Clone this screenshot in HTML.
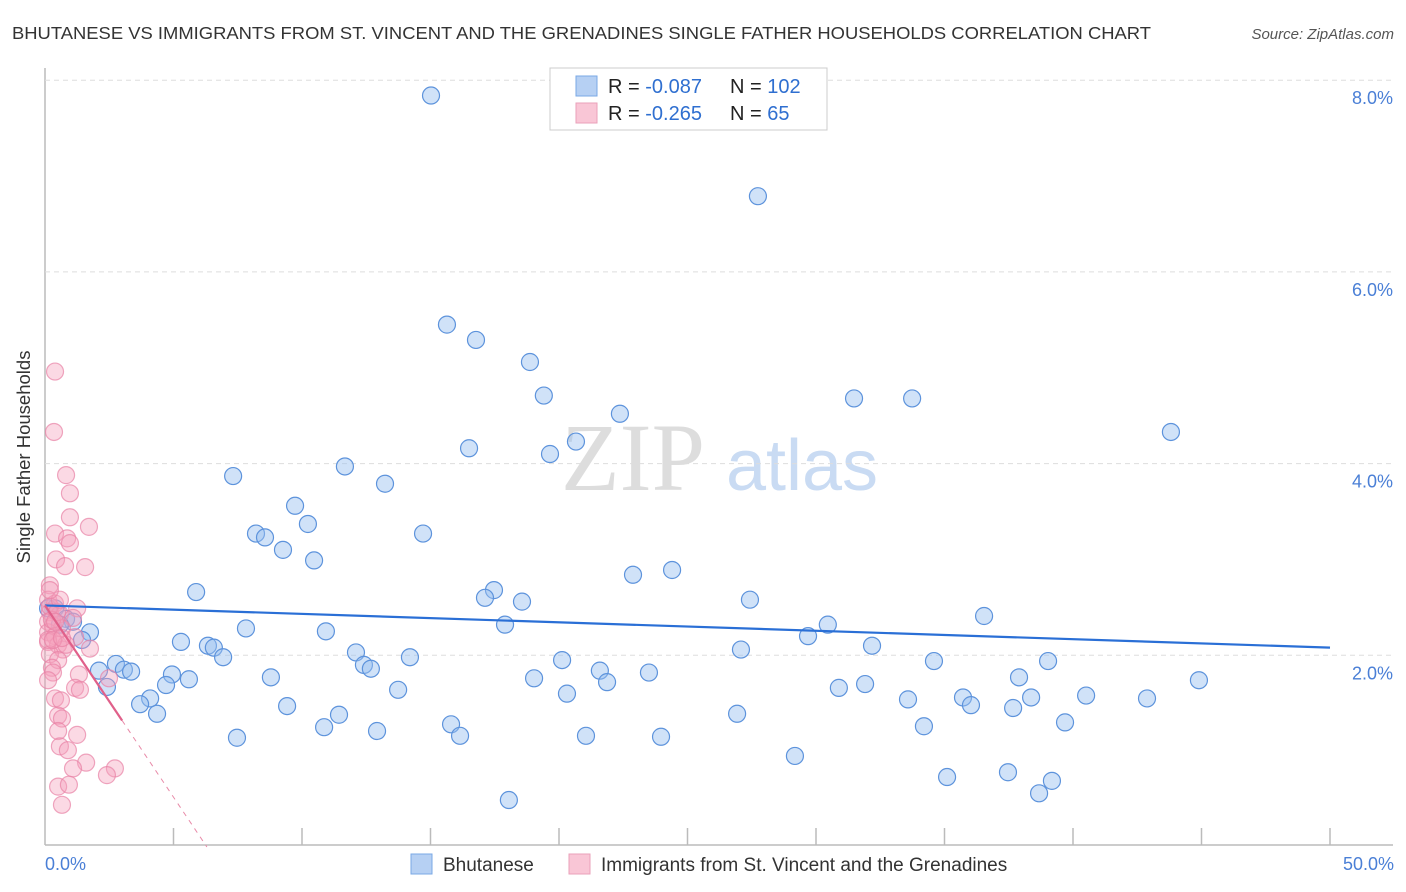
<!DOCTYPE html>
<html><head><meta charset="utf-8">
<style>
body{margin:0;background:#fff;font-family:"Liberation Sans",sans-serif;}
#wrap{position:relative;width:1406px;height:892px;overflow:hidden;}
</style></head>
<body>
<div id="wrap">
<svg id="svg" width="1406" height="892" xmlns="http://www.w3.org/2000/svg" font-family="Liberation Sans, sans-serif">
<text x="12" y="39" font-size="17.5" fill="#333" textLength="1139" lengthAdjust="spacingAndGlyphs">BHUTANESE VS IMMIGRANTS FROM ST. VINCENT AND THE GRENADINES SINGLE FATHER HOUSEHOLDS CORRELATION CHART</text>
<text x="1394" y="39" font-size="15" fill="#555" font-style="italic" text-anchor="end">Source: ZipAtlas.com</text>
<text x="30" y="457" font-size="18.5" fill="#333" text-anchor="middle" transform="rotate(-90 30 457)">Single Father Households</text>
<g>
<text x="633" y="490" font-size="96" fill="#ddd" font-family="Liberation Serif, serif" text-anchor="middle">ZIP</text>
<text x="802" y="490" font-size="72" fill="#c9dbf3" text-anchor="middle">atlas</text>
</g>
<g id="grid"></g>
<g id="marks"></g>
<g id="lines"></g>
<g>
<rect x="550" y="68" width="277" height="62" fill="#fff" stroke="#ccc"/>
<rect x="576" y="76" width="21" height="20" fill="#b6d0f3" stroke="#7aa8e6"/>
<rect x="576" y="103" width="21" height="20" fill="#f9c6d6" stroke="#eaa0ba"/>
<text x="608" y="93" font-size="20" fill="#222">R = <tspan fill="#2f6fd0">-0.087</tspan></text>
<text x="730" y="93" font-size="20" fill="#222">N = <tspan fill="#2f6fd0">102</tspan></text>
<text x="608" y="120" font-size="20" fill="#222">R = <tspan fill="#2f6fd0"> -0.265</tspan></text>
<text x="730" y="120" font-size="20" fill="#222">N = <tspan fill="#2f6fd0">  65</tspan></text>
</g>
<g>
<rect x="411" y="854" width="21" height="20" fill="#b6d0f3" stroke="#7aa8e6"/>
<text x="443" y="871" font-size="19" fill="#333">Bhutanese</text>
<rect x="569" y="854" width="21" height="20" fill="#f9c6d6" stroke="#eaa0ba"/>
<text x="601" y="871" font-size="19" fill="#333">Immigrants from St. Vincent and the Grenadines</text>
</g>
<text x="45" y="870" font-size="18" fill="#4a7fd6">0.0%</text>
<text x="1394" y="870" font-size="18" fill="#4a7fd6" text-anchor="end">50.0%</text>
</svg>
</div>
<script>
const yTicks=[2,4,6,8];
const yTickLabels=["2.0%","4.0%","6.0%","8.0%"];
const xTicks=[5,10,15,20,25,30,35,40,45,50];
const blueX=[15.02,27.74,15.64,16.77,18.87,19.41,22.37,31.48,33.74,43.81,20.66,16.50,19.65,7.32,11.67,13.23,9.73,10.23,8.21,8.56,9.26,14.71,10.47,22.88,24.40,5.88,17.47,17.12,18.56,27.43,36.54,17.90,30.46,29.69,7.82,10.93,5.29,6.34,6.57,6.93,27.08,32.18,12.10,14.20,20.12,34.59,39.03,12.41,12.68,21.59,23.50,37.90,44.90,4.94,5.60,8.79,19.03,21.87,2.76,3.07,3.35,2.10,4.71,2.41,13.74,30.89,31.91,20.31,35.72,38.37,40.51,42.88,4.09,3.70,9.42,33.58,36.03,37.67,4.36,11.44,26.93,39.69,15.80,10.86,34.20,12.92,16.15,7.47,21.05,23.97,29.18,35.10,37.47,39.18,38.68,18.05,0.39,0.82,1.75,1.44,1.09,0.58,0.12];
const blueY=[7.84,6.79,5.45,5.29,5.06,4.71,4.52,4.68,4.68,4.33,4.23,4.16,4.10,3.87,3.97,3.79,3.56,3.37,3.27,3.23,3.10,3.27,2.99,2.84,2.89,2.66,2.68,2.60,2.56,2.58,2.41,2.32,2.32,2.20,2.28,2.25,2.14,2.10,2.08,1.98,2.06,2.10,2.03,1.98,1.95,1.94,1.94,1.90,1.86,1.84,1.82,1.77,1.74,1.80,1.75,1.77,1.76,1.72,1.91,1.85,1.83,1.84,1.69,1.67,1.64,1.66,1.70,1.60,1.56,1.56,1.58,1.55,1.55,1.49,1.47,1.54,1.48,1.45,1.39,1.38,1.39,1.30,1.28,1.25,1.26,1.21,1.16,1.14,1.16,1.15,0.95,0.73,0.78,0.69,0.56,0.49,2.49,2.38,2.24,2.16,2.35,2.32,2.49];
const pinkX=[0.39,0.35,0.82,0.97,0.97,1.71,0.39,0.86,0.97,0.43,0.78,1.56,0.19,0.12,0.39,1.25,0.19,0.58,1.09,0.12,0.31,0.66,0.12,0.39,1.17,0.12,0.51,0.70,1.75,0.19,0.51,0.27,0.31,1.32,2.49,0.12,1.17,1.36,0.39,0.62,0.51,0.66,0.51,1.25,0.58,0.89,1.60,1.09,2.72,2.41,0.51,0.93,0.66,0.19,0.27,0.47,0.12,0.82,0.31,0.58,0.19,0.39,0.66];
const pinkY=[4.96,4.33,3.88,3.69,3.44,3.34,3.27,3.22,3.17,3.00,2.93,2.92,2.73,2.58,2.54,2.49,2.45,2.43,2.39,2.35,2.31,2.28,2.24,2.20,2.19,2.14,2.11,2.06,2.07,2.01,1.95,1.87,1.82,1.80,1.76,1.74,1.66,1.64,1.55,1.53,1.37,1.34,1.21,1.17,1.05,1.01,0.88,0.82,0.82,0.75,0.63,0.65,0.44,2.51,2.37,2.45,2.16,2.11,2.16,2.58,2.68,2.35,2.18];
const blueFit=[2.52,-0.0088];
const pinkFit=[2.52,-0.40];
const NS="http://www.w3.org/2000/svg";
const X0=45,X1=1330,Y0=847,PPY=95.85;
function sx(v){return X0+(v/50)*(X1-X0);}
function sy(v){return Y0-v*PPY;}
function mk(t,a,p){const e=document.createElementNS(NS,t);for(const k in a)e.setAttribute(k,a[k]);p.appendChild(e);return e;}
const grid=document.getElementById('grid'),marks=document.getElementById('marks'),lines=document.getElementById('lines');
mk('line',{x1:45,y1:68,x2:45,y2:845,stroke:'#bbb','stroke-width':1.5},grid);
mk('line',{x1:45,y1:845,x2:1393,y2:845,stroke:'#bbb','stroke-width':1.5},grid);
yTicks.forEach((v,i)=>{
 const l=mk('line',{x1:45,y1:sy(v),x2:1393,y2:sy(v),stroke:'#ddd','stroke-dasharray':'5,4'},grid);
 
 
 const t=mk('text',{x:1393,y:sy(v)+24,'font-size':18,fill:'#4a7fd6','text-anchor':'end'},grid);
 t.textContent=yTickLabels[i];
 
 
});
xTicks.forEach(v=>{
 const l=mk('line',{x1:sx(v),y1:845,x2:sx(v),y2:828,stroke:'#bbb','stroke-width':1.5},grid);
 
 
});
blueX.forEach((x,i)=>{
 const c=mk('circle',{cx:sx(x),cy:sy(blueY[i]),r:8.5,fill:'rgba(150,190,240,0.45)',stroke:'#5d93dc','stroke-width':1.2},marks);
 
 
});
pinkX.forEach((x,i)=>{
 const c=mk('circle',{cx:sx(x),cy:sy(pinkY[i]),r:8.5,fill:'rgba(244,160,188,0.4)',stroke:'rgba(232,130,165,0.7)','stroke-width':1.2},marks);
 
 
});
const bl=mk('line',{x1:sx(0),y1:sy(blueFit[0]),x2:sx(50),y2:sy(blueFit[0]+blueFit[1]*50),stroke:'#2a6fd6','stroke-width':2.2},lines);


const pEnd=3, pZero=-pinkFit[0]/pinkFit[1];
const pl=mk('line',{x1:sx(0),y1:sy(pinkFit[0]),x2:sx(pEnd),y2:sy(pinkFit[0]+pinkFit[1]*pEnd),stroke:'#e0608a','stroke-width':2.2},lines);


const pd=mk('line',{x1:sx(pEnd),y1:sy(pinkFit[0]+pinkFit[1]*pEnd),x2:sx(pZero),y2:sy(0),stroke:'#e88aa8','stroke-width':1,'stroke-dasharray':'5,5'},lines);


</script>
</body></html>
